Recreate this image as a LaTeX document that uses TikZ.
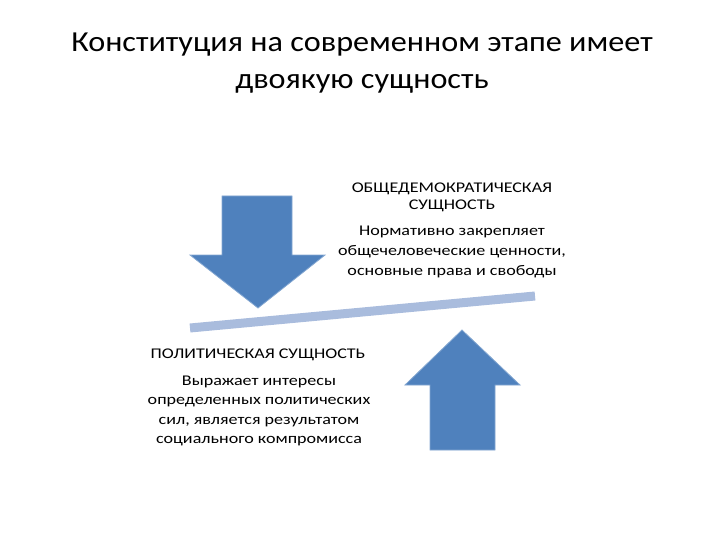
\documentclass[tikz,border=0pt]{standalone}
\usepackage{fontspec}
\setmainfont{Carlito}
\newfontfamily\wideA[FakeStretch=1.11]{Carlito}
\newfontfamily\wideB[FakeStretch=1.22]{Carlito}
\begin{document}
\begin{tikzpicture}[x=1pt,y=-1pt,
  arr/.style={fill=arrblue,draw=arrblue!70!white,line width=0.8pt},
  txt/.style={font=\wideB\fontsize{14.8}{17}\selectfont,align=center,inner sep=0pt}]
\definecolor{arrblue}{HTML}{4F81BD}
\definecolor{barblue}{HTML}{A9BCDD}
\useasboundingbox (0,0) rectangle (720,540);
\node[inner sep=0pt,font=\wideA\fontsize{29}{37}\selectfont,align=center] (title) at (362,63)
 {Конституция на современном этапе имеет\\двоякую сущность};
\draw[arr] (222,196) -- (292,196) -- (292,255) -- (325,255) -- (258,308) -- (190,255) -- (222,255) -- cycle;
\coordinate (b1) at (190,328); \coordinate (b2) at (535,296);
\draw[barblue,line width=9pt] (b1) -- (b2);
\draw[arr] (430,450) -- (495,450) -- (495,385) -- (520,385) -- (462,330) -- (405,385) -- (430,385) -- cycle;
\node[txt] (t1) at (452,197) {ОБЩЕДЕМОКРАТИЧЕСКАЯ\\СУЩНОСТЬ};
\node[txt,font=\wideB\fontsize{14.8}{20}\selectfont] (t2) at (452,252) {Нормативно закрепляет\\общечеловеческие ценности,\\основные права и свободы};
\node[txt] (t3) at (258,355) {ПОЛИТИЧЕСКАЯ СУЩНОСТЬ};
\node[txt,font=\wideB\fontsize{14.8}{19.5}\selectfont] (t4) at (259,411) {Выражает интересы\\определенных политических\\сил, является результатом\\социального компромисса};
\end{tikzpicture}
\end{document}
